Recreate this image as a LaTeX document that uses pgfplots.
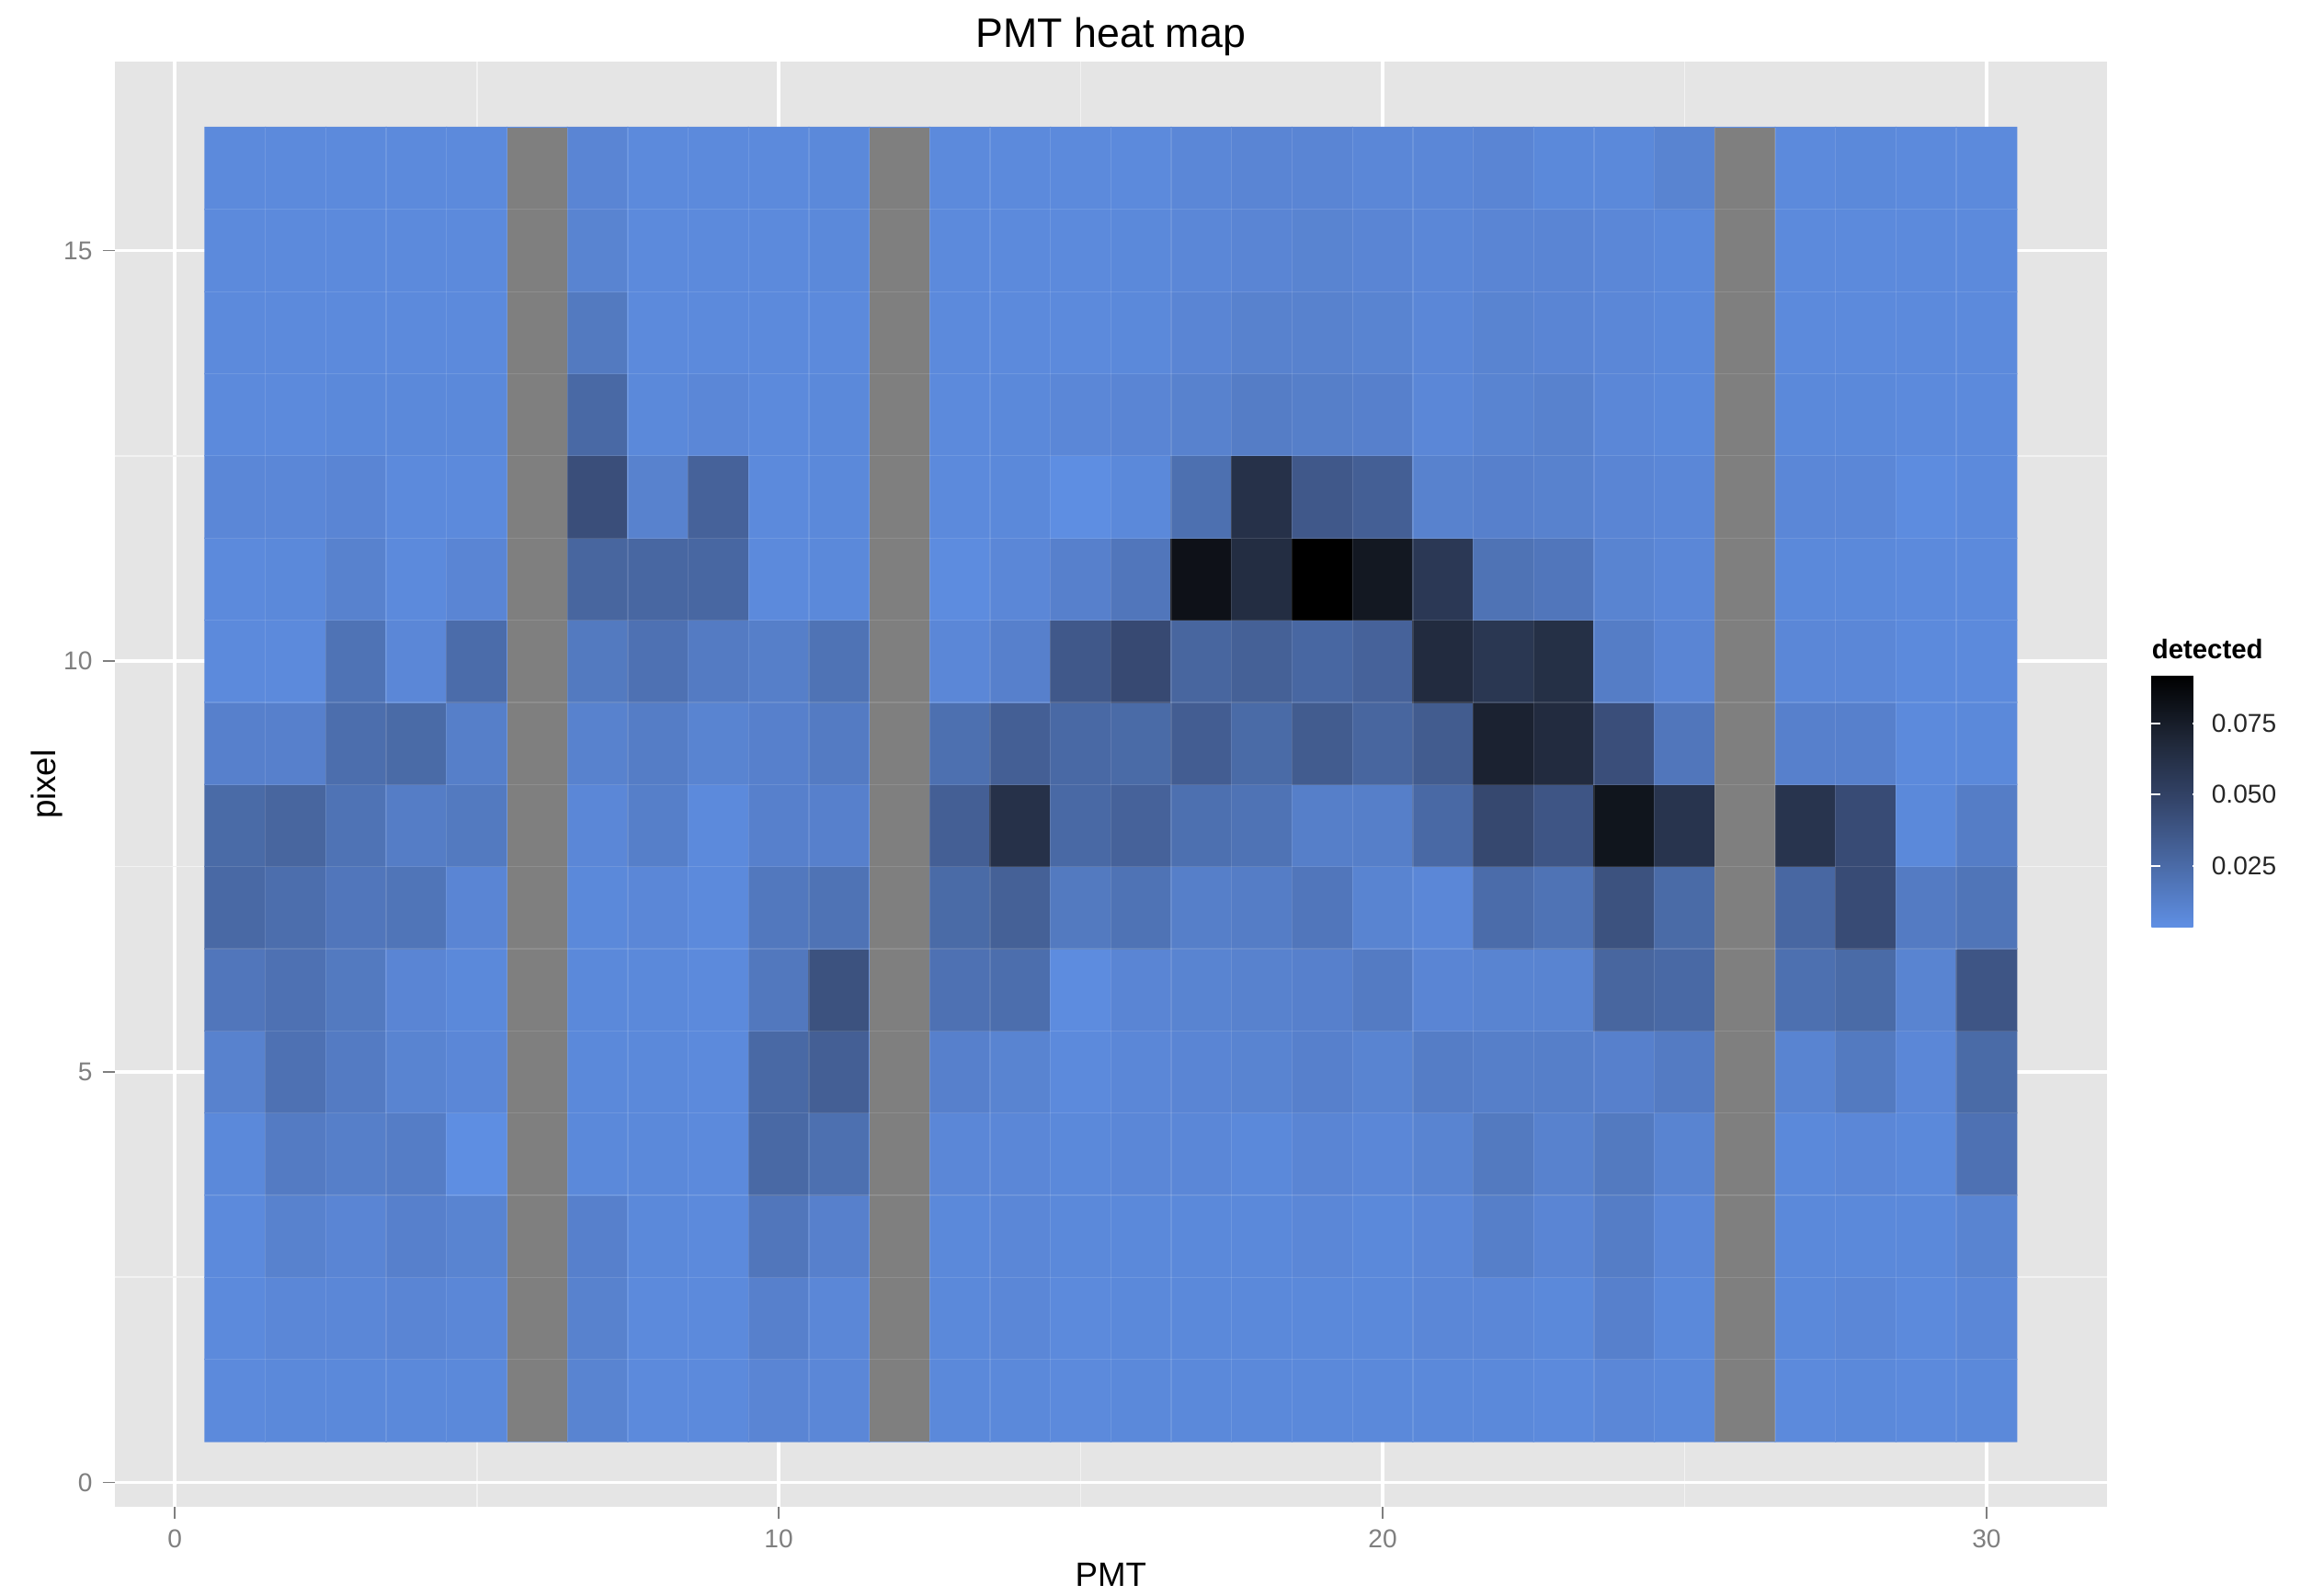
\documentclass[border=0pt]{standalone}
\usepackage{pgfplots}
\pgfplotsset{compat=1.18}
\usepackage{fontspec}
\setmainfont{Liberation Sans}
\setsansfont{Liberation Sans}
\definecolor{panelbg}{HTML}{E5E5E5}
\definecolor{grey50}{HTML}{7F7F7F}
\definecolor{grey95}{HTML}{F2F2F2}
\begin{document}
\begin{tikzpicture}
\path[use as bounding box] (-39pt,-30pt) rectangle (745pt,513.5pt);
\begin{axis}[
  at={(0pt,0pt)}, anchor=south west,
  scale only axis, width=679pt, height=492.5pt,
  xmin=-1, xmax=32, ymin=-0.3, ymax=17.3,
  axis background/.style={fill=panelbg},
  axis line style={draw=none},
  xtick={0,10,20,30}, ytick={0,5,10,15},
  minor xtick={5,15,25}, minor ytick={2.5,7.5,12.5},
  grid=both,
  major grid style={white, line width=1.1pt},
  minor grid style={grey95, line width=0.55pt},
  tick pos=left, tick align=outside,
  major tick length=4pt, minor tick length=0pt,
  major tick style={grey50, line width=0.55pt},
  tick label style={font=\fontsize{8.8}{10}\selectfont, text=grey50},
  /pgf/number format/assume math mode=true,
  colormap={gg}{rgb255=(95,143,228) rgb255=(74,106,166) rgb255=(52,69,107) rgb255=(30,38,54) rgb255=(0,0,0)},
  point meta min=0.0033, point meta max=0.092,
  colorbar,
  colorbar style={
    at={(parent axis.south east)}, anchor=south west, xshift=6.5pt, yshift=197.5pt,
    width=17pt, height=86pt,
    ytick={0.025,0.05,0.075},
    scaled y ticks=false,
    axis line style={draw=none},
    tick align=inside, ytick pos=both, yticklabel pos=right,
    major tick length=3pt,
    major tick style={white, line width=0.6pt},
    /pgf/number format/assume math mode=true,
    yticklabel style={font=\fontsize{8.8}{10}\selectfont, text=black!85,
      /pgf/number format/fixed, /pgf/number format/fixed zerofill, /pgf/number format/precision=3},
  },
]
\addplot[matrix plot*, mesh/cols=30, point meta=explicit] coordinates {
(1,1)[0.006] (2,1)[0.007] (3,1)[0.007] (4,1)[0.007] (5,1)[0.007] (6,1)[0.005] (7,1)[0.010] (8,1)[0.006] (9,1)[0.006] (10,1)[0.009] (11,1)[0.008] (12,1)[0.005] (13,1)[0.007] (14,1)[0.007] (15,1)[0.006] (16,1)[0.007] (17,1)[0.007] (18,1)[0.007] (19,1)[0.007] (20,1)[0.007] (21,1)[0.007] (22,1)[0.007] (23,1)[0.006] (24,1)[0.008] (25,1)[0.007] (26,1)[0.005] (27,1)[0.006] (28,1)[0.007] (29,1)[0.006] (30,1)[0.007]
(1,2)[0.006] (2,2)[0.008] (3,2)[0.008] (4,2)[0.009] (5,2)[0.008] (6,2)[0.005] (7,2)[0.011] (8,2)[0.006] (9,2)[0.006] (10,2)[0.012] (11,2)[0.008] (12,2)[0.005] (13,2)[0.007] (14,2)[0.008] (15,2)[0.006] (16,2)[0.007] (17,2)[0.007] (18,2)[0.007] (19,2)[0.007] (20,2)[0.007] (21,2)[0.008] (22,2)[0.008] (23,2)[0.007] (24,2)[0.012] (25,2)[0.007] (26,2)[0.005] (27,2)[0.007] (28,2)[0.008] (29,2)[0.006] (30,2)[0.008]
(1,3)[0.006] (2,3)[0.011] (3,3)[0.009] (4,3)[0.012] (5,3)[0.010] (6,3)[0.005] (7,3)[0.012] (8,3)[0.007] (9,3)[0.006] (10,3)[0.018] (11,3)[0.012] (12,3)[0.005] (13,3)[0.007] (14,3)[0.008] (15,3)[0.007] (16,3)[0.007] (17,3)[0.007] (18,3)[0.007] (19,3)[0.008] (20,3)[0.007] (21,3)[0.008] (22,3)[0.013] (23,3)[0.009] (24,3)[0.014] (25,3)[0.008] (26,3)[0.005] (27,3)[0.007] (28,3)[0.007] (29,3)[0.007] (30,3)[0.010]
(1,4)[0.007] (2,4)[0.015] (3,4)[0.013] (4,4)[0.014] (5,4)[0.004] (6,4)[0.005] (7,4)[0.007] (8,4)[0.007] (9,4)[0.006] (10,4)[0.026] (11,4)[0.022] (12,4)[0.005] (13,4)[0.008] (14,4)[0.008] (15,4)[0.007] (16,4)[0.008] (17,4)[0.008] (18,4)[0.007] (19,4)[0.009] (20,4)[0.008] (21,4)[0.010] (22,4)[0.016] (23,4)[0.011] (24,4)[0.016] (25,4)[0.010] (26,4)[0.005] (27,4)[0.007] (28,4)[0.008] (29,4)[0.007] (30,4)[0.021]
(1,5)[0.011] (2,5)[0.021] (3,5)[0.015] (4,5)[0.010] (5,5)[0.008] (6,5)[0.005] (7,5)[0.007] (8,5)[0.007] (9,5)[0.006] (10,5)[0.026] (11,5)[0.032] (12,5)[0.005] (13,5)[0.012] (14,5)[0.010] (15,5)[0.006] (16,5)[0.008] (17,5)[0.009] (18,5)[0.010] (19,5)[0.012] (20,5)[0.010] (21,5)[0.014] (22,5)[0.013] (23,5)[0.013] (24,5)[0.012] (25,5)[0.015] (26,5)[0.005] (27,5)[0.010] (28,5)[0.016] (29,5)[0.008] (30,5)[0.025]
(1,6)[0.018] (2,6)[0.021] (3,6)[0.016] (4,6)[0.009] (5,6)[0.007] (6,6)[0.005] (7,6)[0.007] (8,6)[0.007] (9,6)[0.006] (10,6)[0.017] (11,6)[0.040] (12,6)[0.005] (13,6)[0.021] (14,6)[0.023] (15,6)[0.005] (16,6)[0.009] (17,6)[0.010] (18,6)[0.011] (19,6)[0.012] (20,6)[0.015] (21,6)[0.009] (22,6)[0.010] (23,6)[0.010] (24,6)[0.028] (25,6)[0.026] (26,6)[0.005] (27,6)[0.022] (28,6)[0.025] (29,6)[0.010] (30,6)[0.038]
(1,7)[0.026] (2,7)[0.023] (3,7)[0.018] (4,7)[0.019] (5,7)[0.009] (6,7)[0.005] (7,7)[0.007] (8,7)[0.008] (9,7)[0.006] (10,7)[0.017] (11,7)[0.020] (12,7)[0.005] (13,7)[0.025] (14,7)[0.031] (15,7)[0.016] (16,7)[0.020] (17,7)[0.013] (18,7)[0.014] (19,7)[0.018] (20,7)[0.010] (21,7)[0.008] (22,7)[0.024] (23,7)[0.020] (24,7)[0.040] (25,7)[0.025] (26,7)[0.005] (27,7)[0.027] (28,7)[0.044] (29,7)[0.015] (30,7)[0.019]
(1,8)[0.025] (2,8)[0.028] (3,8)[0.020] (4,8)[0.014] (5,8)[0.016] (6,8)[0.005] (7,8)[0.008] (8,8)[0.013] (9,8)[0.006] (10,8)[0.012] (11,8)[0.012] (12,8)[0.005] (13,8)[0.032] (14,8)[0.062] (15,8)[0.026] (16,8)[0.030] (17,8)[0.022] (18,8)[0.020] (19,8)[0.013] (20,8)[0.013] (21,8)[0.026] (22,8)[0.046] (23,8)[0.038] (24,8)[0.080] (25,8)[0.060] (26,8)[0.005] (27,8)[0.060] (28,8)[0.044] (29,8)[0.007] (30,8)[0.014]
(1,9)[0.012] (2,9)[0.012] (3,9)[0.023] (4,9)[0.025] (5,9)[0.013] (6,9)[0.005] (7,9)[0.011] (8,9)[0.014] (9,9)[0.010] (10,9)[0.012] (11,9)[0.015] (12,9)[0.005] (13,9)[0.022] (14,9)[0.032] (15,9)[0.026] (16,9)[0.025] (17,9)[0.033] (18,9)[0.025] (19,9)[0.034] (20,9)[0.028] (21,9)[0.034] (22,9)[0.072] (23,9)[0.066] (24,9)[0.042] (25,9)[0.018] (26,9)[0.005] (27,9)[0.012] (28,9)[0.012] (29,9)[0.006] (30,9)[0.007]
(1,10)[0.006] (2,10)[0.006] (3,10)[0.020] (4,10)[0.008] (5,10)[0.024] (6,10)[0.005] (7,10)[0.016] (8,10)[0.021] (9,10)[0.015] (10,10)[0.013] (11,10)[0.020] (12,10)[0.005] (13,10)[0.008] (14,10)[0.012] (15,10)[0.036] (16,10)[0.045] (17,10)[0.028] (18,10)[0.031] (19,10)[0.027] (20,10)[0.030] (21,10)[0.066] (22,10)[0.058] (23,10)[0.063] (24,10)[0.014] (25,10)[0.009] (26,10)[0.005] (27,10)[0.008] (28,10)[0.008] (29,10)[0.006] (30,10)[0.006]
(1,11)[0.006] (2,11)[0.007] (3,11)[0.011] (4,11)[0.006] (5,11)[0.009] (6,11)[0.005] (7,11)[0.028] (8,11)[0.027] (9,11)[0.027] (10,11)[0.006] (11,11)[0.007] (12,11)[0.005] (13,11)[0.005] (14,11)[0.008] (15,11)[0.012] (16,11)[0.018] (17,11)[0.082] (18,11)[0.065] (19,11)[0.092] (20,11)[0.078] (21,11)[0.057] (22,11)[0.020] (23,11)[0.018] (24,11)[0.010] (25,11)[0.008] (26,11)[0.005] (27,11)[0.007] (28,11)[0.007] (29,11)[0.006] (30,11)[0.006]
(1,12)[0.008] (2,12)[0.008] (3,12)[0.009] (4,12)[0.006] (5,12)[0.006] (6,12)[0.005] (7,12)[0.042] (8,12)[0.011] (9,12)[0.030] (10,12)[0.006] (11,12)[0.007] (12,12)[0.005] (13,12)[0.006] (14,12)[0.007] (15,12)[0.004] (16,12)[0.007] (17,12)[0.022] (18,12)[0.062] (19,12)[0.036] (20,12)[0.032] (21,12)[0.011] (22,12)[0.012] (23,12)[0.011] (24,12)[0.009] (25,12)[0.008] (26,12)[0.005] (27,12)[0.008] (28,12)[0.008] (29,12)[0.005] (30,12)[0.006]
(1,13)[0.006] (2,13)[0.006] (3,13)[0.007] (4,13)[0.007] (5,13)[0.007] (6,13)[0.005] (7,13)[0.026] (8,13)[0.007] (9,13)[0.008] (10,13)[0.006] (11,13)[0.007] (12,13)[0.005] (13,13)[0.006] (14,13)[0.007] (15,13)[0.008] (16,13)[0.009] (17,13)[0.011] (18,13)[0.014] (19,13)[0.013] (20,13)[0.012] (21,13)[0.008] (22,13)[0.010] (23,13)[0.011] (24,13)[0.008] (25,13)[0.007] (26,13)[0.005] (27,13)[0.007] (28,13)[0.007] (29,13)[0.006] (30,13)[0.006]
(1,14)[0.006] (2,14)[0.006] (3,14)[0.006] (4,14)[0.006] (5,14)[0.006] (6,14)[0.005] (7,14)[0.016] (8,14)[0.006] (9,14)[0.006] (10,14)[0.006] (11,14)[0.006] (12,14)[0.005] (13,14)[0.006] (14,14)[0.006] (15,14)[0.006] (16,14)[0.007] (17,14)[0.009] (18,14)[0.011] (19,14)[0.011] (20,14)[0.010] (21,14)[0.008] (22,14)[0.010] (23,14)[0.009] (24,14)[0.008] (25,14)[0.007] (26,14)[0.005] (27,14)[0.006] (28,14)[0.006] (29,14)[0.006] (30,14)[0.006]
(1,15)[0.006] (2,15)[0.006] (3,15)[0.006] (4,15)[0.006] (5,15)[0.006] (6,15)[0.005] (7,15)[0.010] (8,15)[0.006] (9,15)[0.006] (10,15)[0.006] (11,15)[0.007] (12,15)[0.005] (13,15)[0.006] (14,15)[0.006] (15,15)[0.006] (16,15)[0.007] (17,15)[0.008] (18,15)[0.009] (19,15)[0.010] (20,15)[0.009] (21,15)[0.008] (22,15)[0.009] (23,15)[0.009] (24,15)[0.008] (25,15)[0.007] (26,15)[0.005] (27,15)[0.006] (28,15)[0.006] (29,15)[0.006] (30,15)[0.006]
(1,16)[0.006] (2,16)[0.006] (3,16)[0.006] (4,16)[0.006] (5,16)[0.006] (6,16)[0.005] (7,16)[0.009] (8,16)[0.006] (9,16)[0.006] (10,16)[0.006] (11,16)[0.007] (12,16)[0.005] (13,16)[0.006] (14,16)[0.006] (15,16)[0.006] (16,16)[0.006] (17,16)[0.008] (18,16)[0.009] (19,16)[0.009] (20,16)[0.008] (21,16)[0.008] (22,16)[0.009] (23,16)[0.007] (24,16)[0.007] (25,16)[0.010] (26,16)[0.005] (27,16)[0.006] (28,16)[0.007] (29,16)[0.006] (30,16)[0.006]
};
% NA columns (PMT 6, 12, 26)
\addplot[fill=grey50, draw=none] coordinates {(5.5,0.5) (6.5,0.5) (6.5,16.5) (5.5,16.5)} --cycle;
\addplot[fill=grey50, draw=none] coordinates {(11.5,0.5) (12.5,0.5) (12.5,16.5) (11.5,16.5)} --cycle;
\addplot[fill=grey50, draw=none] coordinates {(25.5,0.5) (26.5,0.5) (26.5,16.5) (25.5,16.5)} --cycle;
% faint tile seams
\pgfplotsinvokeforeach{1.5,2.5,...,29.5}{\draw[white, opacity=0.12, line width=0.4pt] (axis cs:#1,0.5) -- (axis cs:#1,16.5);}
\pgfplotsinvokeforeach{1.5,2.5,...,15.5}{\draw[white, opacity=0.12, line width=0.4pt] (axis cs:0.5,#1) -- (axis cs:30.5,#1);}
\end{axis}
\node[font=\fontsize{14}{16}\selectfont, anchor=base] at (339.5pt,497.5pt) {PMT heat map};
\node[font=\fontsize{11.5}{13}\selectfont, anchor=base] at (339.5pt,-27pt) {PMT};
\node[font=\fontsize{11.5}{13}\selectfont, anchor=base, rotate=90] at (-20pt,246.25pt) {pixel};
\node[font=\bfseries\fontsize{9.2}{11}\selectfont, anchor=base west, inner sep=0pt] at (694pt,289pt) {detected};
\end{tikzpicture}
\end{document}
